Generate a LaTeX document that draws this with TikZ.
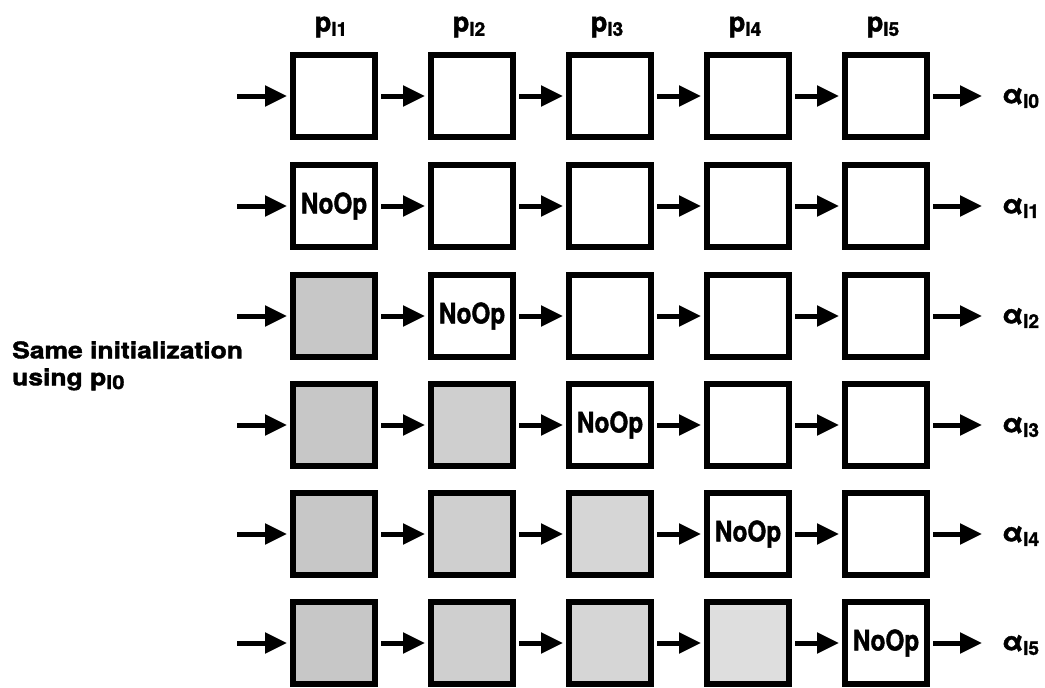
\documentclass[tikz,border=0pt]{standalone}
\usepackage{fontspec}
\setmainfont{TeX Gyre Heros}[BoldFeatures={FakeBold=1.6}]
\usetikzlibrary{arrows.meta}
\newcommand{\lsub}[1]{\raisebox{-0.3ex}{\fontsize{19}{19}\selectfont #1}}
\begin{document}
\begin{tikzpicture}[x=1pt,y=-1pt,
  cell/.style={draw,line width=6pt,minimum width=82pt,minimum height=82pt,inner sep=0pt,
    font=\bfseries\fontsize{27}{29}\selectfont},
  flow/.style={line width=5pt,-{Triangle[length=22pt,width=20pt]},shorten >=3pt,shorten <=3pt},
  lbl/.style={font=\bfseries\fontsize{27}{28}\selectfont,inner sep=0pt},
  sidelbl/.style={font=\bfseries\fontsize{23}{27}\selectfont,inner sep=0pt,align=left}
]
\useasboundingbox (0,0) rectangle (1045,688);
% columns
\foreach \c/\x in {1/334,2/472,3/610,4/748,5/886}{
  \node[lbl] (p\c) at (\x-3,27) {p\lsub{l\c}};
}
\foreach \r/\y in {0/96,1/206,2/316,3/425,4/534,5/643}{
  \foreach \c/\x in {1/334,2/472,3/610,4/748,5/886}{
    \pgfmathtruncatemacro{\shd}{\c<\r ? 1 : 0}
    \pgfmathtruncatemacro{\nop}{\c==\r ? 1 : 0}
    \pgfmathtruncatemacro{\lev}{25-3*\c}
    \ifnum\shd=1
      \node[cell,fill=black!\lev] (b\r\c) at (\x,\y) {};
    \else
      \ifnum\nop=1
        \node[cell] (b\r\c) at (\x,\y) {\scalebox{0.9}[1.05]{NoOp}};
      \else
        \node[cell] (b\r\c) at (\x,\y) {};
      \fi
    \fi
  }
  \coordinate (in\r) at (237,\y);
  \coordinate (out\r) at (982,\y);
  \node[lbl,anchor=west] (a\r) at (1002,\y+2) {α\lsub{l\r}};
  \draw[flow,shorten <=0pt] (in\r) -- (b\r1);
  \draw[flow] (b\r1) -- (b\r2);
  \draw[flow] (b\r2) -- (b\r3);
  \draw[flow] (b\r3) -- (b\r4);
  \draw[flow] (b\r4) -- (b\r5);
  \draw[flow,shorten >=0pt] (b\r5) -- (out\r);
}
\node[sidelbl,anchor=north west] (side) at (12,341) {\scalebox{1.15}[1]{Same initialization}\\\scalebox{1.15}[1]{using p\lsub{l0}}};
\end{tikzpicture}
\end{document}
